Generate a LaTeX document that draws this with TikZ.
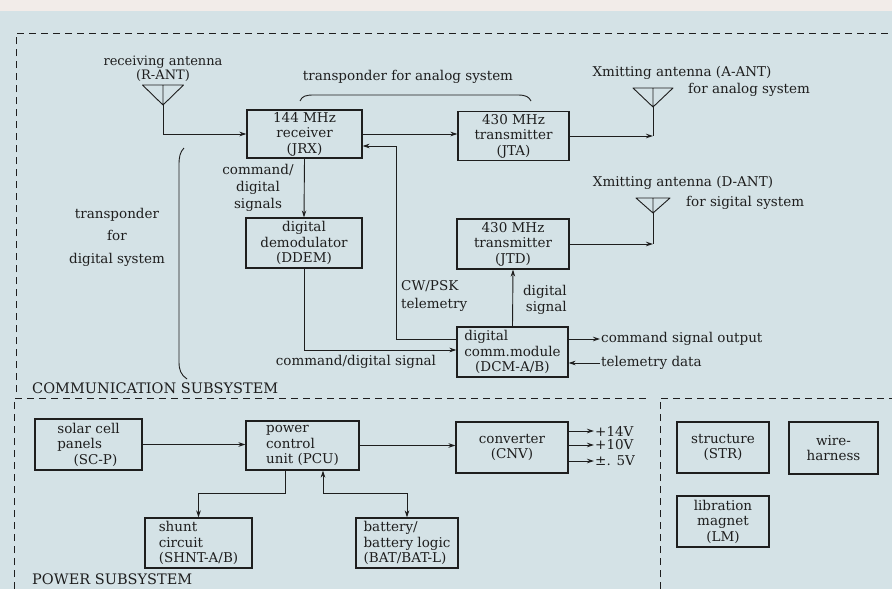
\documentclass[tikz,border=0pt]{standalone}
\usepackage{fontspec}
\setmainfont{DejaVu Serif}
\usetikzlibrary{arrows.meta}
\definecolor{paper}{RGB}{212,226,230}
\definecolor{paperTop}{RGB}{242,236,233}
\definecolor{ink}{RGB}{30,30,30}
\tikzset{
  blk/.style={draw=ink, line width=1.1pt, rectangle, inner sep=1pt, align=center, text=ink},
  lab/.style={text=ink, inner sep=1pt},
  wire/.style={draw=ink, line width=0.9pt},
  border/.style={draw=ink, line width=0.9pt, dash pattern=on 7pt off 5pt},
  pics/antenna/.style args={#1/#2}{code={
    \draw[wire, line join=round] (0,0) -- (-#1,-#2) -- (#1,-#2) -- cycle (0,0) -- (0,-#2);}},
}
\begin{document}
\begin{tikzpicture}[x=1pt, y=-1pt, >={Stealth[length=7pt,width=4.5pt]},
    font=\fontsize{13.5}{15.5}\selectfont]
    \fill[paper] (0,0) rectangle (892,589);
    \fill[paperTop] (0,0) rectangle (892,11);
    \useasboundingbox (0,0) rectangle (892,589);
    \draw[border] (16,392) -- (16,33) -- (892,33);
    \draw[border] (14,589) -- (14,398) -- (650,398);
    \draw[border] (660,589) -- (660,398) -- (892,398);

    \node[blk, minimum width=115pt, minimum height=48pt] (jrx) at (304.5,134) {144 MHz\\receiver\\(JRX)};
    \node[blk, minimum width=111pt, minimum height=49pt] (jta) at (513.5,136) {430 MHz\\transmitter\\(JTA)};
    \node[blk, minimum width=112pt, minimum height=50pt] (jtd) at (513,244) {430 MHz\\transmitter\\(JTD)};
    \node[blk, minimum width=116pt, minimum height=50pt] (ddem) at (304,243) {digital\\demodulator\\(DDEM)};
    \node[blk, minimum width=111pt, minimum height=50pt, align=left] (dcm) at (512.5,352) {digital\\comm.module\\\hspace{0.8em}(DCM-A/B)};

    \node[blk, minimum width=107pt, minimum height=51pt, align=left] (scp) at (88.5,444.5) {solar cell\\panels\\\hspace{1.2em}(SC-P)};
    \node[blk, minimum width=113pt, minimum height=49pt, align=left] (pcu) at (302.5,445.5) {power\\control\\unit (PCU)};
    \node[blk, minimum width=112pt, minimum height=51pt] (cnv) at (512,447.5) {converter\\(CNV)};
    \node[blk, minimum width=107pt, minimum height=50pt, align=left] (shnt) at (198.5,543) {shunt\\circuit\\(SHNT-A/B)};
    \node[blk, minimum width=102pt, minimum height=50pt, align=left] (bat) at (407,543) {battery/\\battery logic\\(BAT/BAT-L)};
    \node[blk, minimum width=92pt, minimum height=51pt] (str) at (723,447.5) {structure\\(STR)};
    \node[blk, minimum width=89pt, minimum height=52pt] (wh) at (833.5,448) {wire-\\harness};
    \node[blk, minimum width=92pt, minimum height=51pt] (lm) at (723,521.5) {libration\\magnet\\(LM)};

    \coordinate (rant) at (163,105);
    \coordinate (aant) at (653,107);
    \coordinate (dant) at (653,213);
    \pic at (rant) {antenna=20.5/20};
    \pic at (aant) {antenna=20/19};
    \pic at (dant) {antenna=17/15};

    \node[lab, align=center, font=\fontsize{13}{12}\selectfont] (rantlab) at (163,69) {receiving antenna\\(R-ANT)};
    \node[lab] (analab) at (408,77) {transponder for analog system};
    \node[lab] (aantlab) at (682,73) {Xmitting antenna (A-ANT)};
    \node[lab, anchor=west] (aantsys) at (687,90) {for analog system};
    \node[lab] (dantlab) at (683,183) {Xmitting antenna (D-ANT)};
    \node[lab, anchor=west] (dantsys) at (685,203) {for sigital system};
    \node[lab, align=center, font=\fontsize{13.5}{22.5}\selectfont] (diglab) at (117,237) {transponder\\for\\digital system};
    \node[lab, align=center, font=\fontsize{13.5}{17}\selectfont] (cmdlab) at (258,188) {command/\\digital\\signals};
    \node[lab, align=left, anchor=west, font=\fontsize{13.5}{18.5}\selectfont] (cwlab) at (400,296) {CW/PSK\\telemetry};
    \node[lab, align=right, anchor=east] (dsiglab) at (568,300) {digital\\signal};
    \node[lab] (cdlab) at (356,362) {command/digital signal};
    \node[lab, anchor=west, font=\fontsize{14.5}{16}\selectfont] (comlab) at (31,388) {COMMUNICATION SUBSYSTEM};
    \node[lab, anchor=west, font=\fontsize{14.5}{16}\selectfont] (pwrlab) at (31,579) {POWER SUBSYSTEM};

    \draw[wire] (300,101) .. controls (302,96) and (306,95) .. (314,95) -- (518,95) .. controls (526,95) and (529,97) .. (531,101);
    \draw[wire] (184,148) .. controls (180,152) and (179,157) .. (179,165) -- (179,362) .. controls (179,370) and (181,375) .. (187,379);

    \draw[wire, ->] (rant) |- (jrx.west);
    \draw[wire, ->] (jrx.east) -- (jrx.east -| jta.west);
    \draw[wire, ->] (jta.east) -- (jta.east -| aant);
    \draw[wire] (aant) -- (jta.east -| aant);
    \draw[wire, ->] (jtd.east) -- (jtd.east -| dant);
    \draw[wire] (dant) -- (jtd.east -| dant);
    \draw[wire, ->] (jrx.south) -- (ddem.north);
    \draw[wire, ->] (ddem.south) |- ([yshift=2pt]dcm.west);
    \draw[wire, ->] ([yshift=13pt]dcm.west) -| ([xshift=34pt,yshift=-12pt]jrx.east) -- ([yshift=-12pt]jrx.east);
    \draw[wire, ->] (dcm.north) -- (jtd.south);

    \node[lab, anchor=west] (cmdout) at (600,339) {command signal output};
    \node[lab, anchor=west] (tlmin) at (600,363) {telemetry data};
    \draw[wire, ->] (dcm.east |- cmdout.west) -- (cmdout.west);
    \draw[wire, ->] (tlmin.west) -- (tlmin.west -| dcm.east);

    \draw[wire, ->] (scp.east) -- (scp.east -| pcu.west);
    \draw[wire, ->] (pcu.east) -- (pcu.east -| cnv.west);
    \draw[wire, ->] ([xshift=-17.5pt]pcu.south) -- ++(0,23) -| (shnt.north);
    \draw[wire, <->] ([xshift=20.5pt]pcu.south) -- ++(0,23) -| (bat.north);
    \foreach \v/\y/\t in {v14/431/{+14V}, v10/445/{+10V}, v5/461/{±. 5V}} {
        \node[lab, anchor=west] (\v) at (594,\y) {\t};
        \draw[wire, ->] (cnv.east |- \v.west) -- (\v.west);
    }
\end{tikzpicture}
\end{document}
